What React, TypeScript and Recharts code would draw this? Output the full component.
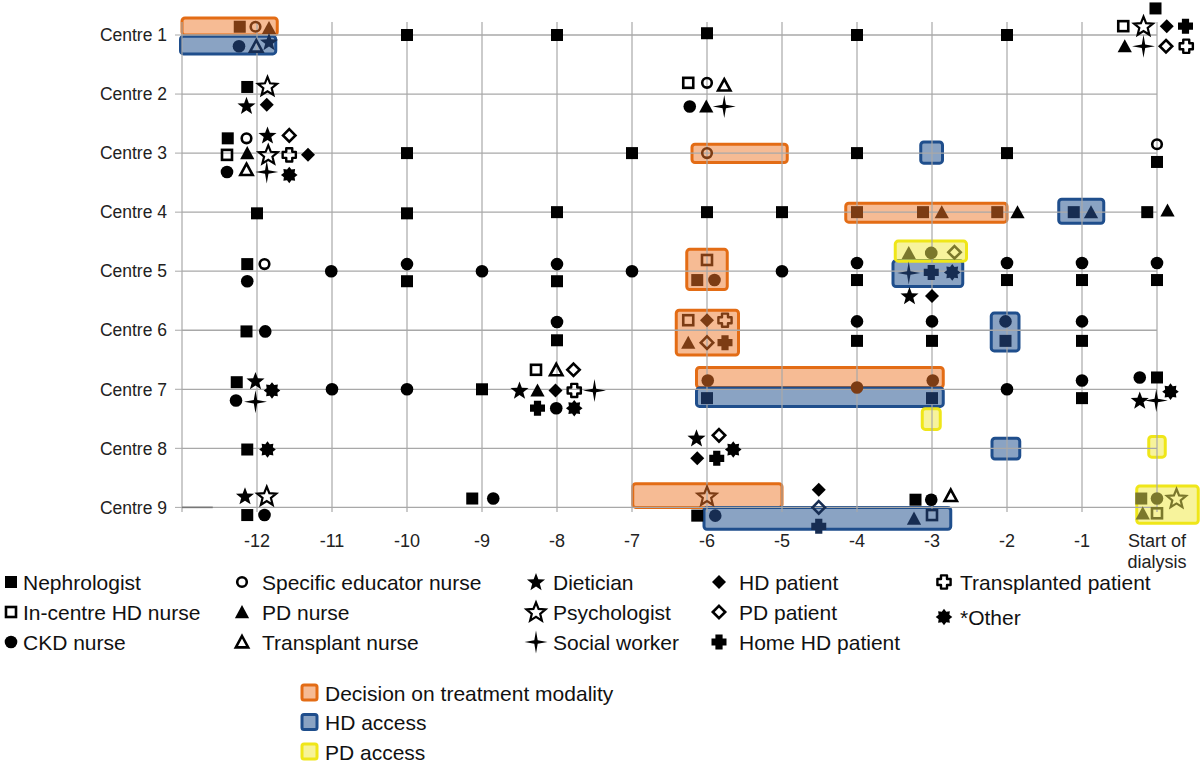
import {
  ScatterChart, Scatter, XAxis, YAxis, ReferenceArea, ReferenceLine,
} from 'recharts';

type Role = 'N' | 'H' | 'C' | 'E' | 'P' | 'T' | 'D' | 'Y' | 'S' | 'HP' | 'PP' | 'HH' | 'TP' | 'O';
type Pt = { role: Role; x: number; y: number };
type Box = { x1: number; x2: number; y1: number; y2: number };

const FONT = '"Liberation Sans", Arial, sans-serif';
const GRID = '#a8a8a8';

const centres = ['Centre 1', 'Centre 2', 'Centre 3', 'Centre 4', 'Centre 5', 'Centre 6', 'Centre 7', 'Centre 8', 'Centre 9'];
const centreTicks = [1, 2, 3, 4, 5, 6, 7, 8, 9];
const yearTicks = [-13, -12, -11, -10, -9, -8, -7, -6, -5, -4, -3, -2, -1, 0];

const m = (role: Role, x: number, y: number): Pt => ({ role, x, y });

const centre1 = [
  m('N', -12.23, 0.86), m('E', -12.02, 0.86), m('P', -11.84, 0.88),
  m('C', -12.24, 1.19), m('T', -12.01, 1.19), m('D', -11.84, 1.12),
  m('N', -10, 1), m('N', -8, 1), m('N', -6, 0.97), m('N', -4, 1), m('N', -2, 1),
  m('N', -0.02, 0.55), m('H', -0.45, 0.85), m('Y', -0.18, 0.85), m('HP', 0.13, 0.85), m('HH', 0.38, 0.85),
  m('P', -0.43, 1.19), m('S', -0.18, 1.19), m('PP', 0.12, 1.19), m('TP', 0.39, 1.19),
];
const centre2 = [
  m('N', -12.13, 1.88), m('Y', -11.86, 1.87), m('D', -12.14, 2.2), m('HP', -11.87, 2.18),
  m('H', -6.25, 1.81), m('E', -6.0, 1.81), m('T', -5.77, 1.85),
  m('C', -6.23, 2.21), m('P', -6.01, 2.21), m('S', -5.77, 2.21),
];
const centre3 = [
  m('N', -12.39, 2.75), m('E', -12.14, 2.75), m('D', -11.86, 2.7), m('PP', -11.57, 2.7),
  m('H', -12.4, 3.03), m('P', -12.13, 3.0), m('Y', -11.85, 3.03), m('TP', -11.57, 3.03), m('HP', -11.32, 3.03),
  m('C', -12.4, 3.32), m('T', -12.14, 3.28), m('S', -11.87, 3.32), m('O', -11.57, 3.37),
  m('N', -10, 3), m('N', -7, 3), m('E', -6, 3), m('N', -4, 3), m('N', -2, 3),
  m('E', 0, 2.85), m('N', 0, 3.15),
];
const centre4 = [
  m('N', -12, 4.02), m('N', -10, 4.02), m('N', -8, 4), m('N', -6, 4), m('N', -5, 4),
  m('N', -4, 4), m('N', -3.12, 4), m('P', -2.87, 4), m('N', -2.13, 4), m('P', -1.86, 4),
  m('N', -1.11, 4), m('P', -0.88, 4), m('N', -0.13, 4), m('P', 0.14, 3.97),
];
const centre5 = [
  m('N', -12.13, 4.88), m('E', -11.9, 4.88), m('C', -12.13, 5.17),
  m('C', -11.01, 5), m('C', -10, 4.88), m('N', -10, 5.17), m('C', -9, 5),
  m('C', -8, 4.88), m('N', -8, 5.17), m('C', -7, 5),
  m('H', -6.0, 4.81), m('N', -6.13, 5.15), m('C', -5.9, 5.15),
  m('C', -5, 5), m('C', -4, 4.86), m('N', -4, 5.15),
  m('P', -3.31, 4.69), m('C', -3.01, 4.69), m('PP', -2.7, 4.68),
  m('S', -3.31, 5.03), m('HH', -3.01, 5.02), m('O', -2.73, 5.02),
  m('D', -3.3, 5.42), m('HP', -3.0, 5.42),
  m('C', -2, 4.86), m('N', -2, 5.15), m('C', -1, 4.86), m('N', -1, 5.15), m('C', 0, 4.86), m('N', 0, 5.15),
];
const centre6 = [
  m('N', -12.14, 6.02), m('C', -11.89, 6.02),
  m('C', -8, 5.86), m('N', -8, 6.17),
  m('H', -6.25, 5.83), m('HP', -6.0, 5.83), m('TP', -5.76, 5.83),
  m('P', -6.25, 6.21), m('PP', -6.0, 6.21), m('HH', -5.76, 6.21),
  m('C', -4, 5.85), m('N', -4, 6.18), m('C', -3, 5.85), m('N', -3, 6.18),
  m('C', -2.02, 5.85), m('N', -2.02, 6.18), m('C', -1, 5.85), m('N', -1, 6.18),
];
const centre7 = [
  m('N', -12.27, 6.88), m('D', -12.02, 6.86), m('O', -11.8, 7.02), m('C', -12.28, 7.19), m('S', -12.02, 7.21),
  m('C', -11, 7), m('C', -10, 7), m('N', -9, 7),
  m('H', -8.28, 6.67), m('T', -8.01, 6.67), m('PP', -7.78, 6.67),
  m('D', -8.5, 7.02), m('P', -8.26, 7.02), m('HP', -8.02, 7.02), m('TP', -7.77, 7.02), m('S', -7.5, 7.02),
  m('HH', -8.26, 7.32), m('C', -8.01, 7.32), m('O', -7.77, 7.32),
  m('C', -5.99, 6.85), m('C', -4, 6.97), m('C', -2.99, 6.85),
  m('N', -6.0, 7.15), m('N', -3.0, 7.15),
  m('C', -2, 7), m('C', -1, 6.85), m('N', -1, 7.15),
  m('C', -0.23, 6.8), m('N', 0, 6.8), m('O', 0.18, 7.04), m('D', -0.23, 7.19), m('S', -0.01, 7.19),
];
const centre8 = [
  m('N', -12.13, 8.02), m('O', -11.86, 8.02),
  m('D', -6.14, 7.83), m('PP', -5.84, 7.78), m('O', -5.65, 8.02), m('HP', -6.13, 8.17), m('HH', -5.87, 8.17),
];
const centre9 = [
  m('D', -12.16, 8.81), m('Y', -11.87, 8.81), m('N', -12.13, 9.13), m('C', -11.9, 9.13),
  m('N', -9.13, 8.85), m('C', -8.85, 8.85),
  m('Y', -6.0, 8.81), m('N', -6.13, 9.14), m('C', -5.89, 9.14),
  m('HP', -4.51, 8.7), m('PP', -4.51, 9.0), m('HH', -4.51, 9.32),
  m('N', -3.22, 8.87), m('C', -3.01, 8.87), m('T', -2.75, 8.8),
  m('P', -3.24, 9.19), m('H', -3.0, 9.13),
  m('N', -0.21, 8.85), m('C', 0, 8.85), m('Y', 0.26, 8.85), m('P', -0.19, 9.1), m('H', 0, 9.1),
];

// decision on treatment modality / HD access / PD access periods
const decisionBoxes: Box[] = [
  { x1: -13.0, x2: -11.73, y1: 0.71, y2: 1.0 },
  { x1: -6.2, x2: -4.93, y1: 2.85, y2: 3.16 },
  { x1: -4.15, x2: -2.0, y1: 3.85, y2: 4.17 },
  { x1: -6.27, x2: -5.73, y1: 4.63, y2: 5.31 },
  { x1: -6.41, x2: -5.58, y1: 5.66, y2: 6.42 },
  { x1: -6.14, x2: -2.85, y1: 6.63, y2: 6.97 },
  { x1: -6.99, x2: -5.0, y1: 8.6, y2: 9.0 },
];
const hdAccessBoxes: Box[] = [
  { x1: -13.02, x2: -11.75, y1: 1.02, y2: 1.32 },
  { x1: -3.15, x2: -2.86, y1: 2.81, y2: 3.17 },
  { x1: -1.31, x2: -0.71, y1: 3.78, y2: 4.19 },
  { x1: -3.52, x2: -2.59, y1: 4.82, y2: 5.26 },
  { x1: -2.21, x2: -1.84, y1: 5.71, y2: 6.35 },
  { x1: -6.14, x2: -2.85, y1: 6.98, y2: 7.29 },
  { x1: -2.2, x2: -1.83, y1: 7.83, y2: 8.18 },
  { x1: -6.04, x2: -2.75, y1: 9.0, y2: 9.37 },
];
const pdAccessBoxes: Box[] = [
  { x1: -3.49, x2: -2.54, y1: 4.49, y2: 4.83 },
  { x1: -3.13, x2: -2.89, y1: 7.33, y2: 7.68 },
  { x1: -0.11, x2: 0.11, y1: 7.8, y2: 8.15 },
  { x1: -0.27, x2: 0.55, y1: 8.64, y2: 9.27 },
];

const roleLegend: { role: Role; label: string }[][] = [
  [{ role: 'N', label: 'Nephrologist' }, { role: 'H', label: 'In-centre HD nurse' }, { role: 'C', label: 'CKD nurse' }],
  [{ role: 'E', label: 'Specific educator nurse' }, { role: 'P', label: 'PD nurse' }, { role: 'T', label: 'Transplant nurse' }],
  [{ role: 'D', label: 'Dietician' }, { role: 'Y', label: 'Psychologist' }, { role: 'S', label: 'Social worker' }],
  [{ role: 'HP', label: 'HD patient' }, { role: 'PP', label: 'PD patient' }, { role: 'HH', label: 'Home HD patient' }],
  [{ role: 'TP', label: 'Transplanted patient' }, { role: 'O', label: '*Other' }],
];
const boxLegend = ['Decision on treatment modality', 'HD access', 'PD access'];

const BOX_STYLE = [
  { fill: '#ed7d31', stroke: '#e36c15', tint: '#7c3c14' },
  { fill: '#1f4e8c', stroke: '#1f4e8c', tint: '#172d52' },
  { fill: '#efe83a', stroke: '#efe619', tint: '#7b782c' },
];

const allMarkers = [...centre1, ...centre2, ...centre3, ...centre4, ...centre5, ...centre6, ...centre7, ...centre8, ...centre9];

const inside = (p: Pt, b: Box) => p.x >= b.x1 && p.x <= b.x2 && p.y >= b.y1 && p.y <= b.y2;
function markerColor(p: Pt) {
  if (decisionBoxes.some((b) => inside(p, b))) return BOX_STYLE[0].tint;
  if (hdAccessBoxes.some((b) => inside(p, b))) return BOX_STYLE[1].tint;
  if (pdAccessBoxes.some((b) => inside(p, b))) return BOX_STYLE[2].tint;
  return '#000';
}

function starPts(cx: number, cy: number, n: number, outer: number, inner: number) {
  const pts: string[] = [];
  for (let i = 0; i < n * 2; i++) {
    const r = i % 2 === 0 ? outer : inner;
    const a = -Math.PI / 2 + (i * Math.PI) / n;
    pts.push(`${cx + r * Math.cos(a)},${cy + r * Math.sin(a)}`);
  }
  return pts.join(' ');
}
const triPts = (cx: number, cy: number, s: number) =>
  `${cx},${cy - s} ${cx + s * 0.95},${cy + s * 0.75} ${cx - s * 0.95},${cy + s * 0.75}`;
const diaPts = (cx: number, cy: number, s: number) =>
  `${cx},${cy - s} ${cx + s},${cy} ${cx},${cy + s} ${cx - s},${cy}`;
function crossPts(cx: number, cy: number, l: number, w: number) {
  const p = [[-w, -l], [w, -l], [w, -w], [l, -w], [l, w], [w, w], [w, l], [-w, l], [-w, w], [-l, w], [-l, -w], [-w, -w]];
  return p.map(([a, b]) => `${cx + a},${cy + b}`).join(' ');
}

function Marker({ role, cx, cy, color }: { role: Role; cx: number; cy: number; color: string }) {
  const sw = 2.6;
  switch (role) {
    case 'N': return <rect x={cx - 6} y={cy - 6} width={12} height={12} fill={color} />;
    case 'H': return <rect x={cx - 5} y={cy - 5} width={10} height={10} fill="none" stroke={color} strokeWidth={sw} />;
    case 'C': return <circle cx={cx} cy={cy} r={6.3} fill={color} />;
    case 'E': return <circle cx={cx} cy={cy} r={4.8} fill="none" stroke={color} strokeWidth={sw} />;
    case 'P': return <polygon points={triPts(cx, cy + 0.5, 7.5)} fill={color} />;
    case 'T': return <polygon points={triPts(cx, cy + 0.5, 6.5)} fill="none" stroke={color} strokeWidth={sw} />;
    case 'D': return <polygon points={starPts(cx, cy + 0.5, 5, 9.5, 4)} fill={color} />;
    case 'Y': return <polygon points={starPts(cx, cy + 0.5, 5, 10, 4.4)} fill="none" stroke={color} strokeWidth={2.2} />;
    case 'S': return <polygon points={starPts(cx, cy, 4, 11.5, 2.4)} fill={color} />;
    case 'HP': return <polygon points={diaPts(cx, cy, 7)} fill={color} />;
    case 'PP': return <polygon points={diaPts(cx, cy, 6.2)} fill="none" stroke={color} strokeWidth={sw} />;
    case 'HH': return <polygon points={crossPts(cx, cy, 7.5, 3.6)} fill={color} />;
    case 'TP': return <polygon points={crossPts(cx, cy, 6.6, 3)} fill="none" stroke={color} strokeWidth={2.4} strokeLinejoin="round" />;
    case 'O': return <polygon points={starPts(cx, cy, 8, 8.3, 5.8)} fill={color} />;
    default: return null;
  }
}

function renderMarker(props: any) {
  const p = props.payload as Pt;
  return <Marker role={p.role} cx={props.cx} cy={props.cy} color={markerColor(p)} />;
}

function XTick({ x, y, payload }: any) {
  const v = payload.value as number;
  if (v === -13) return null;
  if (v === 0) {
    return (
      <text x={x} y={y + 15.5} textAnchor="middle" fontSize={18} fontFamily={FONT} fill="#222">
        <tspan x={x}>Start of</tspan>
        <tspan x={x} dy={21}>dialysis</tspan>
      </text>
    );
  }
  return (
    <text x={x} y={y + 15.5} textAnchor="middle" fontSize={18} fontFamily={FONT} fill="#222">{v}</text>
  );
}

const legendCols = [
  { icon: 11, text: 23 },
  { icon: 242, text: 262 },
  { icon: 536, text: 553 },
  { icon: 719, text: 739 },
  { icon: 944, text: 960 },
];
const legendRows = [582, 612, 642];

export default function App() {
  const boxGroups = [decisionBoxes, hdAccessBoxes, pdAccessBoxes];
  return (
    <div style={{ position: 'absolute', left: 0, top: 0, width: 1200, height: 766, fontFamily: FONT }}>
      <ScatterChart width={1200} height={600} margin={{ top: 0.76, right: 5.5, bottom: 0, left: 0 }}>
        <XAxis
          type="number"
          dataKey="x"
          domain={[-13, 0.5]}
          ticks={yearTicks}
          interval={0}
          axisLine={false}
          tickLine={false}
          tickSize={0}
          tickMargin={0}
          height={69}
          tick={<XTick />}
        />
        <YAxis
          type="number"
          dataKey="y"
          reversed
          domain={[0.42, 9.4]}
          ticks={centreTicks}
          interval={0}
          width={182}
          axisLine={false}
          tickLine={{ stroke: GRID }}
          tickSize={7}
          tickMargin={8}
          tickFormatter={(v: number) => centres[v - 1]}
          tick={{ fontSize: 17.5, fill: '#222', fontFamily: FONT }}
        />
        {yearTicks.map((t) => (
          <ReferenceLine
            key={`v${t}`}
            segment={[{ x: t, y: 0.78 }, { x: t, y: 9.08 }]}
            stroke={GRID}
            strokeWidth={1.2}
            ifOverflow="visible"
          />
        ))}
        {centreTicks.map((c) => (
          <ReferenceLine
            key={`h${c}`}
            segment={[{ x: -13, y: c }, { x: 0, y: c }]}
            stroke={GRID}
            strokeWidth={1.3}
            ifOverflow="visible"
          />
        ))}
        <ReferenceLine segment={[{ x: -13, y: 9 }, { x: -12.59, y: 9 }]} stroke="#777" strokeWidth={1.6} ifOverflow="visible" />
        {boxGroups.map((group, gi) =>
          group.map((b, i) => (
            <ReferenceArea
              key={`b${gi}-${i}`}
              x1={b.x1}
              x2={b.x2}
              y1={b.y1}
              y2={b.y2}
              fill={BOX_STYLE[gi].fill}
              fillOpacity={gi === 2 ? 0.5 : 0.52}
              stroke={BOX_STYLE[gi].stroke}
              strokeWidth={3}
              radius={3}
              ifOverflow="visible"
            />
          )),
        )}
        <Scatter data={allMarkers} shape={renderMarker} isAnimationActive={false} />
      </ScatterChart>
      <svg width={1200} height={766} style={{ position: 'absolute', left: 0, top: 0, pointerEvents: 'none' }}>
        {roleLegend.map((col, ci) =>
          col.map((item, ri) => {
            const cy = legendRows[ri] + (ci === 4 && ri === 1 ? 5 : 0);
            return (
              <g key={`${ci}-${ri}`}>
                <Marker role={item.role} cx={legendCols[ci].icon} cy={cy} color="#000" />
                <text x={legendCols[ci].text} y={cy} dy="0.36em" fontSize={21} fontFamily={FONT} fill="#111">
                  {item.label}
                </text>
              </g>
            );
          }),
        )}
        {boxLegend.map((label, i) => (
          <g key={label}>
            <rect
              x={302}
              y={685 + i * 29.5}
              width={15}
              height={15}
              rx={2}
              fill={BOX_STYLE[i].fill}
              fillOpacity={0.52}
              stroke={BOX_STYLE[i].stroke}
              strokeWidth={3}
            />
            <text x={325} y={693 + i * 29.5} dy="0.36em" fontSize={21} fontFamily={FONT} fill="#111">{label}</text>
          </g>
        ))}
      </svg>
    </div>
  );
}
